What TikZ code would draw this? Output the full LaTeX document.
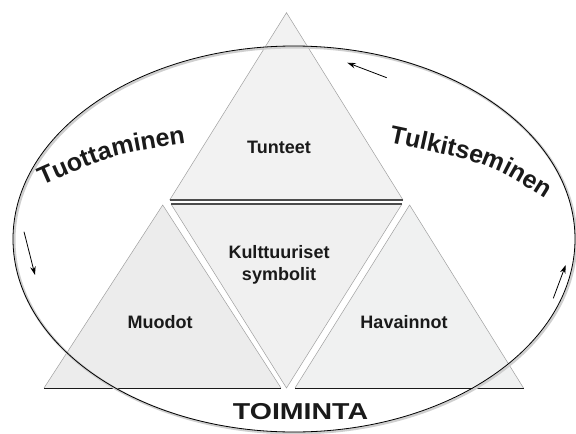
\documentclass[tikz,border=0pt]{standalone}
\usepackage{fontspec}
\setmainfont{Liberation Sans}
\usetikzlibrary{arrows.meta,decorations.text}
\definecolor{txt}{HTML}{1A1A1A}
\definecolor{topfill}{HTML}{F2F2F2}
\definecolor{midfill}{HTML}{F0F0F0}
\definecolor{leftfill}{HTML}{ECECEC}
\definecolor{rightfill}{HTML}{F0F1F1}
\definecolor{edge}{HTML}{A0A0A0}
\definecolor{shadowc}{HTML}{CFCFCF}
\begin{document}
\begin{tikzpicture}[x=1pt,y=-1pt,
  side/.style={draw=edge, line width=0.5pt},
  darkbase/.style={draw=black!70, line width=1.3pt},
  blackbase/.style={draw=black!90, line width=0.9pt},
  lbl/.style={font=\bfseries\fontsize{18}{22}\selectfont, text=txt, align=center, inner sep=0pt},
  flowarrow/.style={draw=black, line width=0.8pt, -{Stealth[length=8.5pt,width=5.5pt]}},
  curvedword/.style={decorate, decoration={text along path, text align=center, text color=txt}}
]
\useasboundingbox (0,0) rectangle (576,434);
\fill[white] (0,0) rectangle (576,434);

% top triangle
\fill[topfill] (169.7,200) -- (286.5,12.7) -- (403,200) -- cycle;
\path[side] (169.7,200) -- (286.5,12.7) -- (403,200);
\path[darkbase] (169.7,200) -- (403,200);

% middle inverted triangle
\fill[midfill] (171,204) -- (402,204) -- (286.5,388) -- cycle;
\path[side] (171,204) -- (286.5,388) -- (402,204);
\path[darkbase] (171,204) -- (402,204);

% left triangle
\fill[leftfill] (44,388) -- (162.7,205) -- (281,388) -- cycle;
\path[side] (44,388) -- (162.7,205) -- (281,388);
\path[blackbase] (44,388) -- (281,388);

% right triangle
\fill[rightfill] (295,388) -- (409.6,205) -- (523.5,388) -- cycle;
\path[side] (295,388) -- (409.6,205) -- (523.5,388);
\path[blackbase] (295,388) -- (523.5,388);

% ellipse with shadow
\draw[shadowc, line width=2.6pt] (295.2,240.2) ellipse [x radius=281, y radius=193];
\draw[black, line width=0.8pt] (294,239) ellipse [x radius=281, y radius=193];

% labels
\node[lbl] (tunteet) at (279,147) {Tunteet};
\node[lbl] (kult) at (279,265) {Kulttuuriset\\symbolit};
\node[lbl] (muodot) at (160,322) {Muodot};
\node[lbl] (havainnot) at (404,322) {Havainnot};
\node[font=\bfseries\fontsize{23}{23}\selectfont, text=txt, inner sep=0pt, xscale=1.24] (toiminta) at (300.5,411.3) {TOIMINTA};

% curved words
\path[curvedword, decoration={text={|\bfseries\fontsize{25}{25}\selectfont|Tuottaminen}}]
  (46,184) .. controls (112,155) .. (182,144);
\path[curvedword, decoration={text={|\bfseries\fontsize{25}{25}\selectfont|Tulkitseminen}}]
  (392,143) .. controls (490,164) .. (543,197);

% arrows
\coordinate (a1s) at (386.7,77.7);
\coordinate (a1e) at (347.3,62.7);
\coordinate (a2s) at (24,231.7);
\coordinate (a2e) at (35,275);
\coordinate (a3s) at (553.3,298.3);
\coordinate (a3e) at (565.7,265);
\draw[flowarrow] (a1s) -- (a1e);
\draw[flowarrow] (a2s) -- (a2e);
\draw[flowarrow] (a3s) -- (a3e);
\end{tikzpicture}
\end{document}
